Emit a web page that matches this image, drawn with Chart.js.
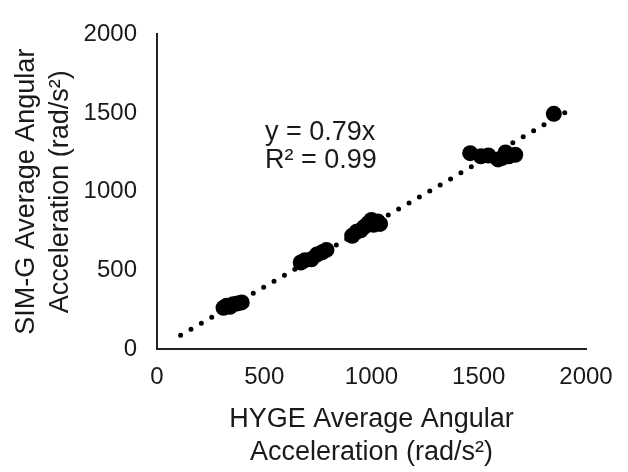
<!DOCTYPE html>
<html>
<head>
<meta charset="utf-8">
<script src="https://cdn.jsdelivr.net/npm/chart.js@4/dist/chart.umd.min.js"></script>
<style>
  html, body { margin: 0; padding: 0; background: #fff; }
  #wrap { width: 628px; height: 472px; }
</style>
</head>
<body>
<div id="wrap"><canvas id="chart" width="628" height="472"></canvas></div>
<script>
// HYGE vs SIM-G average angular acceleration (rad/s^2)
const hyge = [310, 325, 340, 355, 375, 395,
              670, 690, 720, 745, 770, 790,
              910, 930, 950, 965, 985, 1000, 1010, 1030, 1040,
              1460, 1510, 1545, 1590, 1610, 1625, 1640, 1670,
              1850];
const simg = [262, 275, 268, 285, 290, 296,
              550, 565, 570, 600, 615, 630,
              720, 745, 755, 775, 800, 820, 790, 810, 795,
              1245, 1225, 1230, 1205, 1215, 1250, 1225, 1235,
              1495];

// trendline y = 0.79x, read at its two ends
const trendX = [110, 1945];
const trendY = [87, 1537];

const tickValues = [0, 500, 1000, 1500, 2000];

const textColor = '#1a1a1a';
const fontFamily = '"Liberation Sans", Arial, sans-serif';

const annotation = {
    id: 'annotation',
    afterDatasetsDraw(chart) {
        const { ctx, scales } = chart;
        const x = scales.x.getPixelForValue(503);
        ctx.save();
        ctx.fillStyle = textColor;
        ctx.font = '27px ' + fontFamily;
        ctx.textAlign = 'left';
        ctx.textBaseline = 'middle';
        ctx.fillText('y = 0.79x', x, scales.y.getPixelForValue(1374));
        ctx.fillText('R² = 0.99', x, scales.y.getPixelForValue(1198));
        ctx.restore();
    }
};

new Chart(document.getElementById('chart'), {
    type: 'scatter',
    data: {
        datasets: [
            {
                data: hyge.map((v, i) => ({ x: v, y: simg[i] })),
                backgroundColor: '#000',
                borderColor: '#000',
                pointRadius: 8,
                pointBorderWidth: 0,
                order: 1
            },
            {
                type: 'line',
                data: trendX.map((v, i) => ({ x: v, y: trendY[i] })),
                borderColor: '#000',
                borderWidth: 5,
                borderDash: [0, 12],
                borderCapStyle: 'round',
                pointRadius: 0,
                fill: false,
                order: 2
            }
        ]
    },
    options: {
        responsive: false,
        animation: false,
        layout: { padding: { top: 20, right: 42, left: 0, bottom: 0 } },
        plugins: { legend: { display: false }, tooltip: { enabled: false } },
        scales: {
            x: {
                type: 'linear',
                min: 0, max: 2000,
                afterBuildTicks: s => { s.ticks = tickValues.map(v => ({ value: v })); },
                afterFit: s => { s.height = 123; },
                grid: { display: false, drawTicks: false },
                border: { color: '#222', width: 2 },
                ticks: { color: textColor, padding: 14, maxRotation: 0, callback: v => String(v),
                         font: { family: fontFamily, size: 24 } },
                title: {
                    display: true,
                    text: ['HYGE Average Angular', 'Acceleration (rad/s²)'],
                    color: textColor,
                    padding: { top: 0, bottom: 3 },
                    font: { family: fontFamily, size: 27, lineHeight: 1.22 }
                }
            },
            y: {
                type: 'linear',
                min: 0, max: 2000,
                afterBuildTicks: s => { s.ticks = tickValues.map(v => ({ value: v })); },
                afterFit: s => { s.width = 157; },
                grid: { display: false, drawTicks: false },
                border: { color: '#222', width: 2 },
                ticks: { color: textColor, padding: 20, callback: v => String(v),
                         font: { family: fontFamily, size: 24 } },
                title: {
                    display: true,
                    text: ['SIM-G Average Angular', 'Acceleration (rad/s²)'],
                    color: textColor,
                    padding: { top: 9, bottom: 0 },
                    font: { family: fontFamily, size: 27, lineHeight: 1.28 }
                }
            }
        }
    },
    plugins: [annotation]
});
</script>
</body>
</html>
